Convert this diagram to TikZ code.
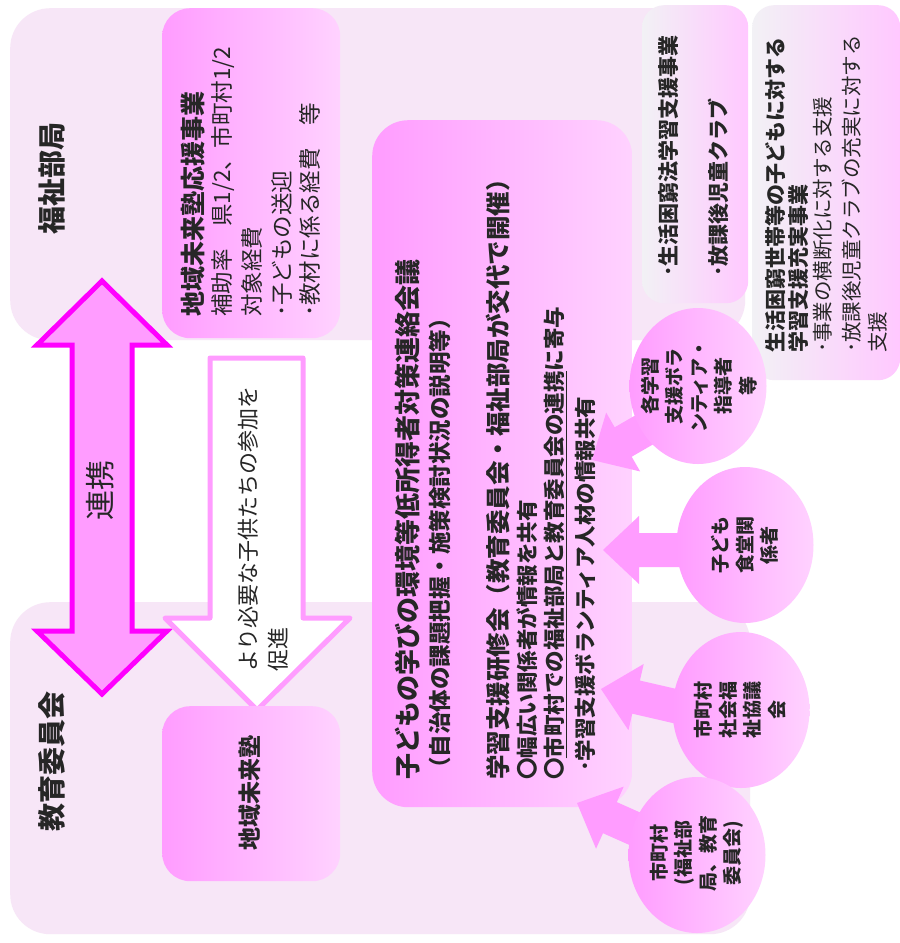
\documentclass[tikz,border=0pt]{standalone}
\usepackage{fontspec}
\setmainfont{Noto Sans CJK JP}
\usetikzlibrary{shapes.geometric}
\definecolor{regionc}{HTML}{F7E6F7}
\definecolor{pinkL}{HTML}{FF9CFF}
\definecolor{pinkR}{HTML}{FFD2FF}
\definecolor{lavL}{HTML}{F2F1F5}
\definecolor{lavR}{HTML}{FFC8FF}
\definecolor{arrowc}{HTML}{FF9CFF}
\definecolor{magentac}{HTML}{FF00FF}
\definecolor{txtc}{HTML}{262626}
\tikzset{
  region/.style={fill=regionc, rounded corners=40pt, inner sep=0pt, anchor=north west},
  pinkbox/.style={left color=pinkL, right color=pinkR, rounded corners=28pt, inner sep=0pt, anchor=north west},
  lavbox/.style={left color=lavL, right color=lavR, rounded corners=22pt, inner sep=0pt, anchor=north west},
  vt/.style={rotate=90, anchor=west, inner sep=0pt, text=txtc},
  lbl/.style={rotate=90, inner sep=0pt, text=txtc},
  blob/.style={ellipse, left color=pinkL, right color=pinkR, minimum width=137pt, minimum height=156pt, inner sep=0pt},
  blobtxt/.style={rotate=90, align=center, inner sep=0pt, text=txtc, font=\fontsize{19}{24.5}\selectfont\bfseries},
  fatarrow/.style={fill=arrowc},
}
\newcommand{\fatarr}[3]{%
  \fill[fatarrow, shift={(#1)}, rotate=#2] (0,0) -- (36,34) -- (36,17) -- (#3,17) -- (#3,-17) -- (36,-17) -- (36,-34) -- cycle;}
\begin{document}
\begin{tikzpicture}[x=1pt,y=-1pt]
\useasboundingbox (0,0) rectangle (900,943);
\fill[white] (0,0) rectangle (900,943);
% regions
\node[region, minimum width=735pt, minimum height=332pt] (welf) at (10,8) {};
\node[region, minimum width=740pt, minimum height=332pt] (edu) at (10,602) {};
\node[lbl, font=\fontsize{28}{30}\selectfont\bfseries] (welflbl) at (52,178) {福祉部局};
\node[lbl, font=\fontsize{28}{30}\selectfont\bfseries] (edulbl) at (52,761) {教育委員会};
% double arrow
\draw[line width=5pt, draw=magentac, fill=arrowc, line join=miter]
  (102,281) -- (167,345) -- (132,345) -- (132,631) -- (167,631) -- (102,694)
  -- (37,631) -- (72,631) -- (72,345) -- (37,345) -- cycle;
\node[lbl, font=\fontsize{30}{32}\selectfont] (renkei) at (100,490) {連携};
% support box
\node[pinkbox, minimum width=178pt, minimum height=330pt] (sup) at (162,8) {};
\node[vt, font=\fontsize{25}{28}\selectfont\bfseries] (s1) at (193,317) {地域未来塾応援事業};
\node[vt, font=\fontsize{22.5}{26}\selectfont] (s2) at (223,317) {補助率　県1/2、市町村1/2};
\node[vt, font=\fontsize{22.5}{26}\selectfont] (s3) at (252,317) {対象経費};
\node[vt, font=\fontsize{22.5}{26}\selectfont] (s4) at (282,317) {･子どもの送迎};
\node[vt, font=\fontsize{22.5}{26}\selectfont] (s5) at (310,317) {･教材に係る経費　等};
% open arrow
\draw[line width=5pt, draw=arrowc, fill=white, line join=round]
  (210,358) -- (303,358) -- (303,618) -- (350,618) -- (257,710) -- (165,618) -- (210,618) -- cycle;
\node[vt, font=\fontsize{22}{24}\selectfont] (o1) at (248,672) {より必要な子供たちの参加を};
\node[vt, font=\fontsize{22}{24}\selectfont] (o2) at (278,672) {促進};
% juku box
\node[pinkbox, minimum width=178pt, minimum height=175pt] (juku) at (162,706) {};
\node[lbl, font=\fontsize{23}{25}\selectfont\bfseries] (jukulbl) at (250,793) {地域未来塾};
% central box
\node[pinkbox, rounded corners=36pt, minimum width=260pt, minimum height=687pt] (center) at (372,120) {};
\node[vt, font=\fontsize{26}{28}\selectfont\bfseries] (c1) at (408,780) {子どもの学びの環境等低所得者対策連絡会議};
\node[vt, font=\fontsize{22.5}{25}\selectfont\bfseries] (c2) at (440,780) {（自治体の課題把握・施策検討状況の説明等）};
\node[vt, font=\fontsize{24.5}{27}\selectfont\bfseries] (c3) at (498,780) {学習支援研修会（教育委員会・福祉部局が交代で開催）};
\node[vt, font=\fontsize{21.5}{24}\selectfont\bfseries] (c4) at (527,780) {〇幅広い関係者が情報を共有};
\node[vt, font=\fontsize{21.5}{24}\selectfont\bfseries] (c5) at (555,780) {〇\underline{市町村での福祉部局と教育委員会の連携}に寄与};
\node[vt, font=\fontsize{21.5}{24}\selectfont\bfseries] (c6) at (585,772) {･学習支援ボランティア人材の情報共有};
% lavender boxes
\node[lavbox, minimum width=106pt, minimum height=298pt] (boxa) at (642,5) {};
\node[vt, font=\fontsize{21}{24}\selectfont\bfseries] (a1) at (668,277) {･生活困窮法学習支援事業};
\node[vt, font=\fontsize{21}{24}\selectfont\bfseries] (a2) at (718,277) {･放課後児童クラブ};
\node[lavbox, minimum width=148pt, minimum height=375pt] (boxb) at (752,5) {};
\node[vt, font=\fontsize{21}{24}\selectfont\bfseries] (b1) at (775,353) {生活困窮世帯等の子どもに対する};
\node[vt, font=\fontsize{21}{24}\selectfont\bfseries] (b2) at (798,353) {学習支援充実事業};
\node[vt, font=\fontsize{20.5}{24}\selectfont] (b3) at (823,353) {･事業の横断化に対する支援};
\node[vt, font=\fontsize{20.5}{24}\selectfont] (b4) at (852,353) {･放課後児童クラブの充実に対する};
\node[vt, font=\fontsize{20.5}{24}\selectfont] (b5) at (878,353) {支援};
% arrows from circles
\coordinate (t1) at (592,460);
\coordinate (t2) at (603,550);
\coordinate (t3) at (601,689);
\coordinate (t4) at (577,803);
\fatarr{t1}{30}{100}
\fatarr{t2}{0}{110}
\fatarr{t3}{-13}{110}
\fatarr{t4}{-24}{100}
% circles
\node[blob] (e1) at (698,386) {};
\node[blobtxt] (e1t) at (699,386) {各学習\\支援ボラ\\ンティア・\\指導者\\等};
\node[blob] (e2) at (745,545) {};
\node[blobtxt] (e2t) at (745,545) {子ども\\食堂関\\係者};
\node[blob] (e3) at (741,710) {};
\node[blobtxt] (e3t) at (740,710) {市町村\\社会福\\祉協議\\会};
\node[blob] (e4) at (697,855) {};
\node[blobtxt] (e4t) at (697,853) {市町村\\(福祉部\\局、教育\\委員会)};
\end{tikzpicture}
\end{document}
